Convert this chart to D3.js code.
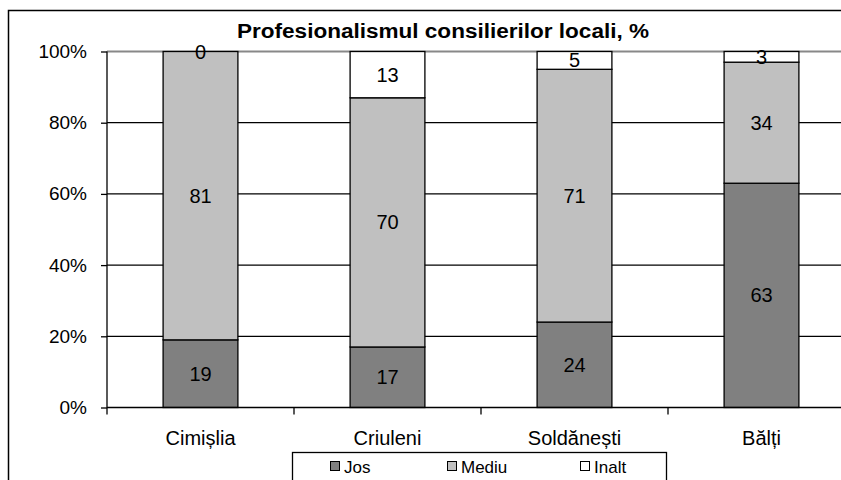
<!DOCTYPE html>
<html><head><meta charset="utf-8">
<script src="https://cdn.jsdelivr.net/npm/d3@7"></script>
<style>body{margin:0;background:#fff}svg{display:block;font-family:Arial,"Liberation Sans",sans-serif}</style>
</head><body><svg id="c" width="841" height="480"></svg>
<script>
const categories = ["Cimișlia", "Criuleni", "Soldănești", "Bălți"];
const seriesNames = ["Jos", "Mediu", "Inalt"];
const jos = [19, 17, 24, 63];
const mediu = [81, 70, 71, 34];
const inalt = [0, 13, 5, 3];
const yTicks = [0, 20, 40, 60, 80, 100];
const colors = ["#808080", "#c0c0c0", "#ffffff"];

const FONT = "Arial,'Liberation Sans',sans-serif";
const svg = d3.select("#c");
const m = {left: 107, top: 51.5, right: 855, bottom: 407.5};

// outer border
svg.append("rect").attr("x", 8.5).attr("y", 10.5).attr("width", 900).attr("height", 600)
  .attr("fill", "none").attr("stroke", "#000").attr("stroke-width", 1.5);

const x = d3.scaleBand().domain(categories).range([m.left, m.right]).paddingInner(0.6).paddingOuter(0.3);
const y = d3.scaleLinear().domain([0, 100]).range([m.bottom, m.top]);

// gridlines
svg.append("g").selectAll("line").data(yTicks.filter(d => d > 0 && d < 100)).join("line")
  .attr("x1", m.left).attr("x2", m.right).attr("y1", d => y(d)).attr("y2", d => y(d))
  .attr("stroke", "#000").attr("stroke-width", 1.3);
svg.append("line").attr("x1", m.left).attr("x2", m.right).attr("y1", y(100)).attr("y2", y(100))
  .attr("stroke", "#888").attr("stroke-width", 2);

// stacked data
const rows = categories.map((c, i) => ({cat: c, Jos: jos[i], Mediu: mediu[i], Inalt: inalt[i]}));
const stack = d3.stack().keys(seriesNames)(rows);

const gBars = svg.append("g");
stack.forEach((s, si) => {
  gBars.append("g").selectAll("rect").data(s).join("rect")
    .attr("x", d => x(d.data.cat)).attr("width", x.bandwidth())
    .attr("y", d => y(d[1])).attr("height", d => y(d[0]) - y(d[1]))
    .attr("fill", colors[si]).attr("stroke", "#000").attr("stroke-width", 1.3);
});
stack.forEach((s, si) => {
  gBars.append("g").selectAll("text").data(s).join("text")
    .attr("x", d => x(d.data.cat) + x.bandwidth() / 2)
    .attr("y", d => (y(d[0]) + y(d[1])) / 2 + 7)
    .attr("text-anchor", "middle").attr("font-size", 20).attr("fill", "#000")
    .text(d => d.data[seriesNames[si]]);
});

// y axis
const yAxis = d3.axisLeft(y).tickValues(yTicks).tickFormat(d => d + "%").tickSize(6).tickPadding(14);
const gy = svg.append("g").attr("transform", `translate(${m.left},0)`).call(yAxis);
gy.attr("font-family", FONT).attr("font-size", 19);
gy.select(".domain").attr("stroke", "#000").attr("stroke-width", 1.3).attr("d", `M0,${m.top}V${m.bottom + 7}`);
gy.selectAll(".tick line").attr("stroke", "#000").attr("stroke-width", 1.3);
gy.selectAll(".tick text").attr("fill", "#000");

// x axis
const xAxis = d3.axisBottom(x).tickSize(0).tickPadding(23);
const gx = svg.append("g").attr("transform", `translate(0,${m.bottom})`).call(xAxis);
gx.attr("font-family", FONT).attr("font-size", 20);
gx.select(".domain").attr("stroke", "#000").attr("stroke-width", 1.3).attr("d", `M${m.left},0H${m.right}`);
gx.selectAll(".tick text").attr("fill", "#000");
// category boundary ticks
const gap = (x.step() - x.bandwidth()) / 2;
svg.append("g").selectAll("line").data(categories.slice(1)).join("line")
  .attr("x1", d => x(d) - gap).attr("x2", d => x(d) - gap)
  .attr("y1", m.bottom).attr("y2", m.bottom + 7).attr("stroke", "#000").attr("stroke-width", 1.3);

// title
svg.append("text").attr("x", 443).attr("y", 38).attr("text-anchor", "middle")
  .attr("font-size", 20).attr("font-weight", "bold").attr("fill", "#000")
  .attr("textLength", 412).attr("lengthAdjust", "spacingAndGlyphs")
  .text("Profesionalismul consilierilor locali, %");

// legend
const lg = svg.append("g");
lg.append("rect").attr("x", 292.5).attr("y", 452.5).attr("width", 374).attr("height", 60)
  .attr("fill", "#fff").attr("stroke", "#000").attr("stroke-width", 1.3);
const lx = [330, 447, 580];
seriesNames.forEach((n, i) => {
  lg.append("rect").attr("x", lx[i] + 0.5).attr("y", 461.5).attr("width", 9).attr("height", 9)
    .attr("fill", colors[i]).attr("stroke", "#000").attr("stroke-width", 1);
  lg.append("text").attr("x", lx[i] + 14).attr("y", 473).attr("font-size", 17).attr("fill", "#000").text(n);
});
</script></body></html>
